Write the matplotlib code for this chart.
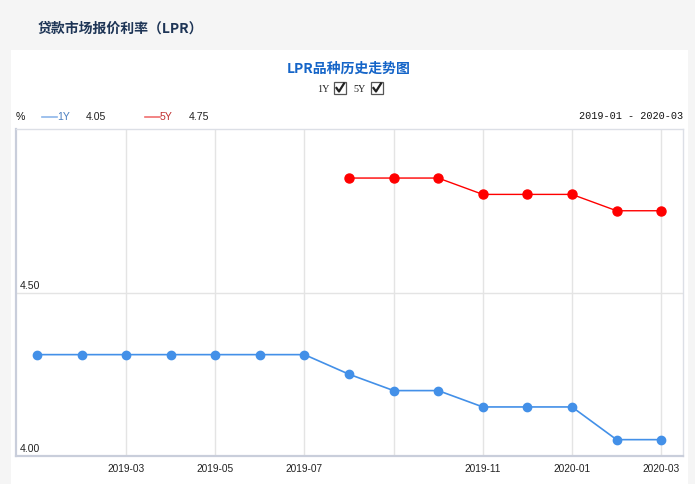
import matplotlib
matplotlib.use("Agg")
import matplotlib.pyplot as plt
from matplotlib.patches import Rectangle
from matplotlib.lines import Line2D

plt.rcParams['font.family'] = ['Liberation Sans', 'Noto Sans CJK SC', 'DejaVu Sans']

# data
months = ["2019-01", "2019-02", "2019-03", "2019-04", "2019-05", "2019-06", "2019-07",
          "2019-08", "2019-09", "2019-10", "2019-11", "2019-12", "2020-01", "2020-02", "2020-03"]
lpr_1y = [4.31, 4.31, 4.31, 4.31, 4.31, 4.31, 4.31, 4.25, 4.20, 4.20, 4.15, 4.15, 4.15, 4.05, 4.05]
lpr_5y = [None, None, None, None, None, None, None, 4.85, 4.85, 4.85, 4.80, 4.80, 4.80, 4.75, 4.75]
tick_months = ["2019-03", "2019-05", "2019-07", "2019-09", "2019-11", "2020-01", "2020-03"]
tick_labels = ["2019-03", "2019-05", "2019-07", "", "2019-11", "2020-01", "2020-03"]
y_ticks = [4.00, 4.50]

blue = "#4390e8"
red = "#ff0000"

fig = plt.figure(figsize=(6.95, 4.84), dpi=100, facecolor="#f5f5f5")
W, H = 695, 484


def fx(px):
    return px / W


def fy(py):
    return 1 - py / H


# white panel
fig.patches.append(Rectangle((fx(11), 0), fx(688) - fx(11), fy(50), transform=fig.transFigure,
                             facecolor="white", edgecolor="none", zorder=-5))

ax = fig.add_axes([fx(16), fy(456), fx(683) - fx(16), fy(129) - fy(456)])
ax.set_zorder(2)
ax.set_facecolor("white")

x = list(range(len(months)))
ax.plot(x, lpr_1y, color=blue, lw=1.2, marker="o", ms=6, zorder=3)
x5 = [i for i, v in zip(x, lpr_5y) if v is not None]
y5 = [v for v in lpr_5y if v is not None]
ax.plot(x5, y5, color=red, lw=1.0, marker="o", ms=6.5, zorder=3)

ax.set_xlim(-0.47, 14.49)
ax.set_ylim(4.0, 5.0)
ax.set_xticks([months.index(m) for m in tick_months])
ax.set_xticklabels(tick_labels, fontsize=7.3, color="#222222")
ax.set_yticks(y_ticks)
ax.set_yticklabels([])
ax.tick_params(length=0, pad=6)
ax.grid(True, color="#e4e4e4", lw=1)
ax.set_axisbelow(True)
for yt in y_ticks:
    ax.text(0.006, yt + 0.005, f"{yt:.2f}", transform=ax.get_yaxis_transform(),
            fontsize=7.6, color="#222222", va="bottom", ha="left")
for side in ["top", "right"]:
    ax.spines[side].set_color("#dcdfe6")
    ax.spines[side].set_linewidth(1.0)
for side in ["left", "bottom"]:
    ax.spines[side].set_color("#c9cedb")
    ax.spines[side].set_linewidth(1.6)

# titles
fig.text(fx(38), fy(29), "贷款市场报价利率（LPR）", fontsize=10, fontweight="bold",
         color="#1e3556", va="center", ha="left",
         family=["Noto Sans CJK SC", "DejaVu Sans"])
fig.text(fx(349), fy(69), "LPR品种历史走势图", fontsize=10, fontweight="bold",
         color="#1565c8", va="center", ha="center",
         family=["Noto Sans CJK SC", "DejaVu Sans"])

# checkboxes row
fig.text(fx(329), fy(89), "1Y", fontsize=7.3, color="#222222", va="center", ha="right",
         family=["Liberation Serif"])
fig.text(fx(366), fy(89), "5Y", fontsize=7.3, color="#222222", va="center", ha="right",
         family=["Liberation Serif"])
for bx in [334, 371]:
    fig.patches.append(Rectangle((fx(bx), fy(94)), fx(12), fy(82) - fy(94), transform=fig.transFigure,
                                 facecolor="white", edgecolor="#555555", lw=0.9))
    fig.lines.append(Line2D([fx(bx + 2.5), fx(bx + 5), fx(bx + 10)], [fy(88), fy(91.5), fy(83.5)],
                            transform=fig.transFigure, color="#222222", lw=1.6))

# legend row
fig.text(fx(16), fy(117), "%", fontsize=7.6, color="#111111", va="center", ha="left")
fig.lines.append(Line2D([fx(42), fx(57)], [fy(117), fy(117)], transform=fig.transFigure,
                        color="#8db6ea", lw=1.2))
fig.text(fx(57), fy(117), "1Y", fontsize=7.6, color="#4a7fc0", va="center", ha="left")
fig.text(fx(86), fy(117), f"{lpr_1y[-1]:.2f}", fontsize=7.6, color="#222222", va="center", ha="left")
fig.lines.append(Line2D([fx(145), fx(160)], [fy(117), fy(117)], transform=fig.transFigure,
                        color="#f07070", lw=1.2))
fig.text(fx(160), fy(117), "5Y", fontsize=7.6, color="#c03030", va="center", ha="left")
fig.text(fx(189), fy(117), f"{lpr_5y[-1]:.2f}", fontsize=7.6, color="#222222", va="center", ha="left")
fig.text(fx(683), fy(116), f"{months[0]} - {months[-1]}", fontsize=7.3, color="#111111",
         va="center", ha="right", family=["Liberation Mono"])

fig.savefig("out.png", dpi=100, facecolor=fig.get_facecolor())
